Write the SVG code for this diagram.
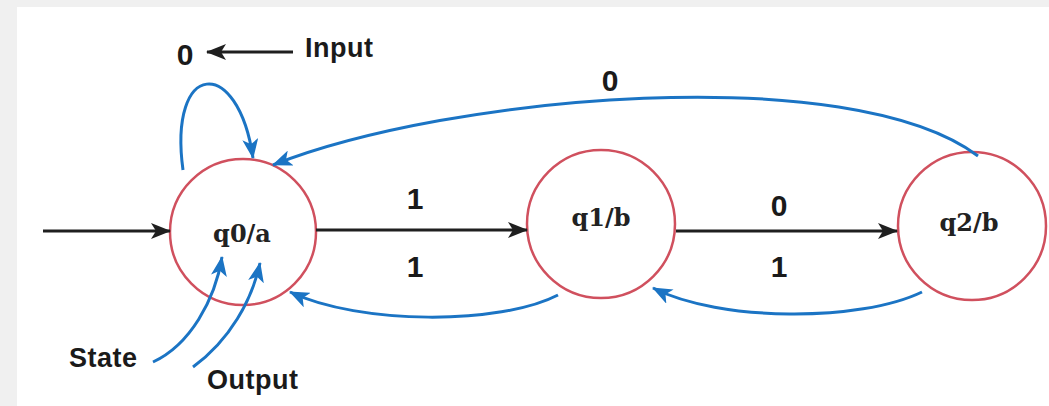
<svg xmlns="http://www.w3.org/2000/svg" width="1049" height="406" viewBox="0 0 1049 406">
<defs>
<marker id="ab" viewBox="0 0 20 16" refX="19" refY="8" markerWidth="20" markerHeight="16" markerUnits="userSpaceOnUse" orient="auto"><path d="M0,0 L20,8 L0,16 L5,8 z" fill="#1f1f1f"/></marker>
<marker id="au" viewBox="0 0 20 16" refX="19" refY="8" markerWidth="20" markerHeight="16" markerUnits="userSpaceOnUse" orient="auto"><path d="M0,0 L20,8 L0,16 L5,8 z" fill="#1b74c4"/></marker>
<style>
.st{fill:#fff;stroke:#d0505e;stroke-width:2.5}
.nl{font-family:"DejaVu Serif",serif;font-weight:bold;font-size:24px;fill:#222;text-anchor:middle}
.lb{font-family:"Liberation Sans",Arial,sans-serif;font-weight:bold;font-size:30px;fill:#1a1a1a;text-anchor:middle}
.an{font-family:"Liberation Sans",Arial,sans-serif;font-weight:bold;font-size:27px;fill:#1a1a1a;letter-spacing:0.5px}
.bk{fill:none;stroke:#1f1f1f;stroke-width:3;marker-end:url(#ab)}
.bl{fill:none;stroke:#1b74c4;stroke-width:3;marker-end:url(#au)}
</style>
</defs>
<rect width="1049" height="406" fill="#f0f0f0"/>
<rect x="17" y="7" width="1032" height="399" fill="#fff"/>
<g id="q0"><circle class="st" cx="243" cy="232" r="73"/><text class="nl" x="242" y="242">q0/a</text></g>
<g id="q1"><circle class="st" cx="601" cy="224" r="74"/><text class="nl" x="601" y="226">q1/b</text></g>
<g id="q2"><circle class="st" cx="972" cy="226" r="74"/><text class="nl" x="969" y="231">q2/b</text></g>
<g id="connectors">
<path class="bk" d="M43,231 L170,231"/>
<path class="bk" d="M316,230 L527,230"/>
<path class="bk" d="M676,231 L897,231"/>
<path class="bk" d="M293,52 L207,52"/>
<path class="bl" d="M183,170 C168,60 238,55 253,158"/>
<path class="bl" d="M978,156 C850,60 450,95 273,165"/>
<path class="bl" d="M558,295 C500,325 360,325 290,292"/>
<path class="bl" d="M922,292 C860,322 720,322 653,288"/>
<path class="bl" d="M153,362 C190,345 215,300 222,257"/>
<path class="bl" d="M193,367 C230,340 252,300 260,263"/>
</g>
<g id="labels">
<text class="lb" x="185" y="65">0</text>
<text class="an" x="305" y="57">Input</text>
<text class="lb" x="610" y="91">0</text>
<text class="lb" x="415" y="209">1</text>
<text class="lb" x="415" y="277">1</text>
<text class="lb" x="779" y="216">0</text>
<text class="lb" x="779" y="277">1</text>
<text class="an" x="69" y="367">State</text>
<text class="an" x="207" y="389">Output</text>
</g>
</svg>
